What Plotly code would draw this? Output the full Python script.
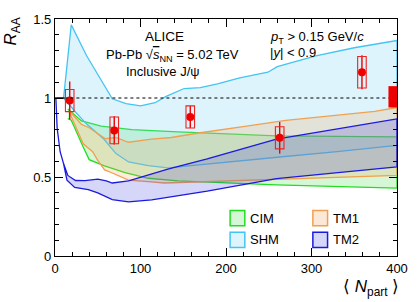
import plotly.graph_objects as go

# ---------------- data ----------------
npart = [17.2, 69.3, 158.2, 262.8, 359.0]
raa = [0.984, 0.795, 0.880, 0.748, 1.163]
stat_err = [0.12, 0.09, 0.07, 0.10, 0.107]
syst_err = [0.07, 0.085, 0.07, 0.07, 0.10]
box_halfwidth = 5.0
global_unc = [0.94, 1.075]

cim_up_x = [15, 31, 54, 90, 144, 259, 400]
cim_up_y = [0.93, 0.855, 0.822, 0.80, 0.785, 0.76, 0.754]
cim_lo_x = [15, 19, 22, 33, 40, 57, 82, 109, 144, 178, 259, 400]
cim_lo_y = [0.87, 0.86, 0.82, 0.69, 0.61, 0.572, 0.528, 0.492, 0.476, 0.467, 0.45, 0.43]

shm_up_x = [2, 10, 19, 37, 67, 83, 100, 117, 130, 151, 170, 190, 216, 249, 260, 305, 350, 377, 400]
shm_up_y = [1.0, 1.0, 1.463, 1.267, 0.995, 0.965, 0.95, 0.97, 1.01, 1.06, 1.066, 1.09, 1.128, 1.163, 1.198, 1.267, 1.318, 1.343, 1.364]
shm_lo_x = [2, 10, 25, 37, 57, 71, 86, 109, 132, 178, 260, 330, 400]
shm_lo_y = [1.0, 1.0, 0.905, 0.835, 0.74, 0.65, 0.595, 0.572, 0.558, 0.58, 0.625, 0.66, 0.70]

tm1_up_x = [16, 19, 31, 40, 59, 71, 86, 100, 113, 136, 170, 224, 270, 374, 400]
tm1_up_y = [0.92, 0.905, 0.833, 0.812, 0.742, 0.75, 0.72, 0.73, 0.74, 0.75, 0.78, 0.822, 0.858, 0.915, 0.94]
tm1_lo_x = [16, 22, 33, 44, 50, 58, 65, 86, 109, 128, 178, 270, 400]
tm1_lo_y = [0.92, 0.85, 0.71, 0.66, 0.605, 0.545, 0.53, 0.48, 0.471, 0.462, 0.47, 0.488, 0.51]

tm2_up_x = [1, 2.5, 6, 10, 15, 24, 35, 50, 60, 67, 86, 132, 178, 259, 400]
tm2_up_y = [1.0, 0.81, 0.66, 0.585, 0.51, 0.478, 0.477, 0.487, 0.475, 0.462, 0.475, 0.55, 0.615, 0.74, 0.868]
tm2_lo_x = [1, 2.5, 6, 10, 14, 23, 39, 50, 58, 67, 86, 113, 178, 259, 400]
tm2_lo_y = [1.0, 0.81, 0.66, 0.585, 0.48, 0.434, 0.42, 0.40, 0.378, 0.357, 0.343, 0.355, 0.41, 0.49, 0.564]

x_ticks = [0, 100, 200, 300, 400]
y_ticks = [0, 0.5, 1, 1.5]
y_ticklabels = ["0", "0.5", "1", "1.5"]

models = [
    ("CIM", cim_up_x, cim_up_y, cim_lo_x, cim_lo_y, "#22dd22", "rgba(70,220,70,0.22)"),
    ("SHM", shm_up_x, shm_up_y, shm_lo_x, shm_lo_y, "#44c4f2", "rgba(120,210,245,0.25)"),
    ("TM1", tm1_up_x, tm1_up_y, tm1_lo_x, tm1_lo_y, "#f0a050", "rgba(245,165,90,0.22)"),
    ("TM2", tm2_up_x, tm2_up_y, tm2_lo_x, tm2_lo_y, "#1a1ae0", "rgba(50,50,220,0.2)"),
]

FONT = "Liberation Sans, Arial, sans-serif"
fig = go.Figure()

for name, ux, uy, lx, ly, lc, fc in models:
    fig.add_trace(go.Scatter(
        x=list(ux) + list(lx)[::-1], y=list(uy) + list(ly)[::-1],
        mode="lines", fill="toself", fillcolor=fc,
        line=dict(color=lc, width=1.3), name=name, showlegend=False,
        hoverinfo="skip"))

# reference line at unity
fig.add_shape(type="line", x0=0, x1=11, y0=1, y1=1, xref="x", yref="y",
              line=dict(color="black", width=1.3))
fig.add_shape(type="line", x0=11, x1=400, y0=1, y1=1, xref="x", yref="y",
              line=dict(color="black", width=1, dash="dot"))

# systematic boxes
for xv, yv, s in zip(npart, raa, syst_err):
    fig.add_shape(type="rect", xref="x", yref="y",
                  x0=xv - box_halfwidth, x1=xv + box_halfwidth,
                  y0=yv - s, y1=yv + s,
                  line=dict(color="#ee2222", width=1.1), fillcolor="rgba(0,0,0,0)")

# global uncertainty
fig.add_shape(type="rect", xref="x", yref="y", x0=390, x1=401,
              y0=global_unc[0], y1=global_unc[1],
              line=dict(color="#ee0000", width=0), fillcolor="#ee0000")

fig.add_trace(go.Scatter(
    x=npart, y=raa, mode="markers",
    marker=dict(color="#ee0000", size=8, symbol="circle"),
    error_y=dict(type="data", array=stat_err, color="#ee0000", thickness=1.4, width=0),
    showlegend=False, hoverinfo="skip"))

# manual legend
leg = [("CIM", 0.512, 0.128, "#22dd22", "rgba(70,220,70,0.22)"),
       ("TM1", 0.754, 0.128, "#f0a050", "rgba(245,165,90,0.25)"),
       ("SHM", 0.512, 0.036, "#44c4f2", "rgba(120,210,245,0.25)"),
       ("TM2", 0.754, 0.036, "#1a1ae0", "rgba(50,50,220,0.2)")]
for name, lx0, ly0, lc, fc in leg:
    fig.add_shape(type="rect", xref="paper", yref="paper",
                  x0=lx0, x1=lx0 + 0.043, y0=ly0, y1=ly0 + 0.064,
                  line=dict(color=lc, width=1.5), fillcolor=fc)
    fig.add_annotation(xref="paper", yref="paper", x=lx0 + 0.052, y=ly0 + 0.032,
                       text=name, showarrow=False, xanchor="left", yanchor="middle",
                       font=dict(size=13, color="black", family=FONT))

# text labels
fig.add_annotation(xref="paper", yref="paper", x=(166 - 55) / 348, y=(256 - 32) / 242,
                   text="ALICE", showarrow=False, xanchor="center", yanchor="middle",
                   font=dict(size=13.5, family=FONT, color="black"))
fig.add_annotation(xref="paper", yref="paper", x=(175 - 55) / 348, y=(256 - 51) / 242,
                   text="Pb-Pb √<span style='text-decoration:overline'><i>s</i></span><sub>NN</sub> = 5.02 TeV",
                   showarrow=False, xanchor="center", yanchor="middle",
                   font=dict(size=13, family=FONT, color="black"))
fig.add_annotation(xref="paper", yref="paper", x=(165 - 55) / 348, y=(256 - 67.5) / 242,
                   text="Inclusive J/ψ", showarrow=False, xanchor="center", yanchor="middle",
                   font=dict(size=13, family=FONT, color="black"))
fig.add_annotation(xref="paper", yref="paper", x=(272 - 55) / 348, y=(256 - 33) / 242,
                   text="<i>p</i><sub>T</sub> > 0.15 GeV/<i>c</i>", showarrow=False,
                   xanchor="left", yanchor="middle",
                   font=dict(size=13, family=FONT, color="black"))
fig.add_annotation(xref="paper", yref="paper", x=(272 - 55) / 348, y=(256 - 48) / 242,
                   text="|<i>y</i>| < 0.9", showarrow=False, xanchor="left", yanchor="middle",
                   font=dict(size=13, family=FONT, color="black"))

# axis titles
fig.add_annotation(xref="paper", yref="paper", x=(11 - 55) / 348, y=(256 - 27) / 242,
                   text="<i>R</i><sub>AA</sub>", showarrow=False, textangle=-90,
                   xanchor="center", yanchor="middle",
                   font=dict(size=17, family=FONT, color="black"))
fig.add_annotation(xref="paper", yref="paper", x=(407 - 55) / 348, y=(256 - 289) / 242,
                   text="⟨ <i>N</i><sub>part</sub> ⟩", showarrow=False,
                   xanchor="right", yanchor="middle",
                   font=dict(size=17, family=FONT, color="black"))

axis_common = dict(showgrid=False, zeroline=False, showline=True, linecolor="black",
                   linewidth=1.2, mirror="ticks", ticks="inside", tickcolor="black",
                   ticklabeloverflow="allow",
                   tickfont=dict(size=13, family=FONT, color="black"))
fig.update_xaxes(range=[0, 400], tickvals=x_ticks, ticklen=8, tickwidth=1.2,
                 minor=dict(dtick=20, ticklen=4, ticks="inside", tickcolor="black", tickwidth=1),
                 **axis_common)
fig.update_yaxes(range=[0, 1.5], tickvals=y_ticks, ticktext=y_ticklabels, ticklen=8, tickwidth=1.2,
                 minor=dict(dtick=0.1, ticklen=4, ticks="inside", tickcolor="black", tickwidth=1),
                 **axis_common)

fig.update_layout(width=420, height=302, margin=dict(l=55, r=17, t=14, b=46),
                  plot_bgcolor="white", paper_bgcolor="white", showlegend=False)

# remove the default 8px page margin so the figure fills the window exactly
fig.write_html("out.html", config={"displayModeBar": False},
               post_script="document.body.style.margin='0';")
